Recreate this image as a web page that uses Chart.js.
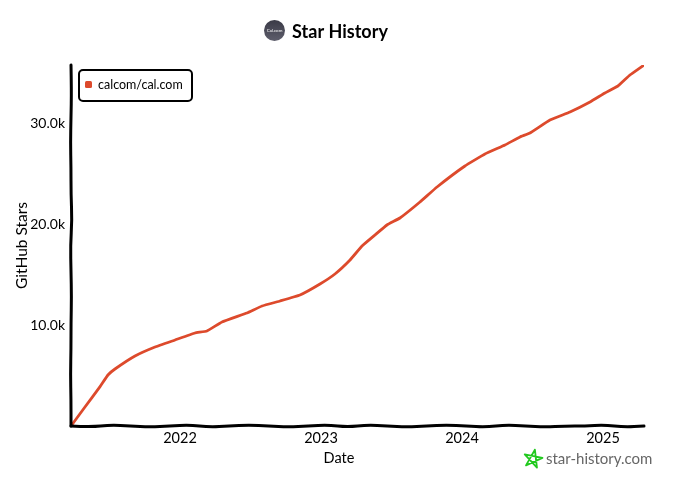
<!DOCTYPE html>
<html>
<head>
<meta charset="utf-8">
<title>Star History</title>
<script src="https://cdn.jsdelivr.net/npm/chart.js@4"></script>
<style>
  body { margin: 0; background: #fff; }
  canvas { display: block; }
</style>
</head>
<body>
<canvas id="myChart" width="680" height="491"></canvas>
<script>
var repoName = 'calcom/cal.com';
// decimal years
var dates = [2021.227, 2021.326, 2021.433, 2021.489, 2021.539, 2021.681, 2021.823, 2021.965, 2022.106,
    2022.191, 2022.298, 2022.475, 2022.582, 2022.709, 2022.851, 2022.993, 2023.099, 2023.206, 2023.291,
    2023.383, 2023.468, 2023.560, 2023.702, 2023.823, 2024.021, 2024.163, 2024.305, 2024.411, 2024.482,
    2024.624, 2024.766, 2024.908, 2025.014, 2025.106, 2025.191, 2025.291];
var stars = [0, 1881, 3901, 5050, 5644, 6931, 7822, 8515, 9208,
    9406, 10297, 11188, 11881, 12376, 12970, 14059, 15050, 16436, 17822,
    18911, 19901, 20594, 22178, 23663, 25743, 26931, 27822, 28614, 29010,
    30297, 31089, 32079, 32970, 33663, 34752, 35743];
var yearTicks = [2022, 2023, 2024, 2025];
var starTicks = [10000, 20000, 30000];

var fontName = 'Lato, sans-serif';
var lineColor = '#dd4a2c';

// small hand drawn wobble, px
var wobbleX = [0, 1, -1, 0, 1, 0, -1, 1, 0, -1, 0, 1, 0, -1, 1, -1, 0, 1, 0, -1, 0, 1, -1, 0, 1, 0, 0, -1, 1, 0];
var wobbleY = [0, 0.5, 0, -0.5, 0, 0, 1, -0.5, 0, 0.5, 0, 0, -0.5, 0, 0];

function wobblyLine(ctx, x0, y0, x1, y1, wobble) {
    var pts = [];
    for (var i = 0; i < wobble.length; i++) {
        var t = i / (wobble.length - 1);
        var w = wobble[i];
        pts.push([x0 + (x1 - x0) * t + (y0 == y1 ? 0 : w), y0 + (y1 - y0) * t + (y0 == y1 ? w : 0)]);
    }
    ctx.beginPath();
    ctx.moveTo(pts[0][0], pts[0][1]);
    for (var j = 1; j < pts.length - 1; j++) {
        ctx.quadraticCurveTo(pts[j][0], pts[j][1], (pts[j][0] + pts[j + 1][0]) / 2, (pts[j][1] + pts[j + 1][1]) / 2);
    }
    ctx.lineTo(pts[pts.length - 1][0], pts[pts.length - 1][1]);
    ctx.stroke();
}

var sketchPlugin = {
    id: 'sketch',
    afterDatasetsDraw: function (chart) {
        var ctx = chart.ctx;
        var a = chart.chartArea;
        ctx.save();
        ctx.lineCap = 'round';
        ctx.strokeStyle = '#000';
        ctx.lineWidth = 3;
        wobblyLine(ctx, a.left, a.top, a.left, a.bottom, wobbleY);
        wobblyLine(ctx, a.left, a.bottom, a.right, a.bottom, wobbleX);

        // legend box
        ctx.fillStyle = '#fff';
        ctx.beginPath();
        ctx.roundRect(79, 70, 113, 31, 4);
        ctx.fill();
        ctx.lineWidth = 2;
        ctx.stroke();
        ctx.fillStyle = lineColor;
        ctx.beginPath();
        ctx.roundRect(85, 81, 7, 7, 1.5);
        ctx.fill();
        ctx.fillStyle = '#000';
        ctx.font = '12.5px ' + fontName;
        ctx.textAlign = 'left';
        ctx.textBaseline = 'middle';
        ctx.fillText(repoName, 98, 85);

        // x title sits on the page centre, not the plot centre
        ctx.font = '14.5px ' + fontName;
        ctx.textAlign = 'center';
        ctx.fillText('Date', 339, 458);

        // logo next to the title
        var grad = ctx.createLinearGradient(0, 21, 0, 41);
        grad.addColorStop(0, '#3c3c48');
        grad.addColorStop(1, '#5e5e6c');
        ctx.fillStyle = grad;
        ctx.beginPath();
        ctx.arc(274.5, 30.5, 10.5, 0, Math.PI * 2);
        ctx.fill();
        ctx.fillStyle = '#fff';
        ctx.font = '4.5px ' + fontName;
        ctx.fillText('Cal.com', 274.5, 31);

        // watermark
        ctx.strokeStyle = '#22c91f';
        ctx.lineWidth = 1.8;
        ctx.lineJoin = 'round';
        ctx.beginPath();
        for (var i = 0; i < 6; i++) {
            var ang = -Math.PI / 2 + i * 4 * Math.PI / 5 + 0.2;
            var sx = 533 + 9.5 * Math.cos(ang);
            var sy = 459 + 9.5 * Math.sin(ang);
            if (i == 0) ctx.moveTo(sx, sy); else ctx.lineTo(sx, sy);
        }
        ctx.stroke();
        ctx.fillStyle = '#666';
        ctx.font = '15px ' + fontName;
        ctx.textAlign = 'left';
        ctx.fillText('star-history.com', 546, 459);
        ctx.restore();
    }
};

var ctx = document.getElementById('myChart').getContext('2d');
var myChart = new Chart(ctx, {
    type: 'line',
    data: {
        labels: dates,
        datasets: [{
            label: repoName,
            data: dates.map(function (d, i) { return { x: d, y: stars[i] }; }),
            borderColor: lineColor,
            backgroundColor: lineColor,
            borderWidth: 2.8,
            pointRadius: 0,
            tension: 0.1
        }]
    },
    options: {
        responsive: false,
        animation: false,
        plugins: {
            legend: { display: false },
            tooltip: { enabled: false },
            title: {
                display: true,
                text: 'Star History',
                color: '#000',
                font: { family: fontName, size: 18, weight: 'bold' },
                padding: { top: 21, bottom: 22.4 }
            }
        },
        scales: {
            x: {
                type: 'linear',
                min: 2021.227,
                max: 2025.291,
                grid: { display: false, drawTicks: false },
                border: { display: false },
                afterBuildTicks: function (s) { s.ticks = yearTicks.map(function (v) { return { value: v }; }); },
                afterFit: function (s) { s.height = 65; },
                ticks: {
                    color: '#000',
                    padding: 4,
                    maxRotation: 0,
                    font: { family: fontName, size: 14.5 },
                    callback: function (v) { return String(v); }
                }
            },
            y: {
                min: 0,
                max: 35743,
                grid: { display: false, drawTicks: false },
                border: { display: false },
                afterBuildTicks: function (s) { s.ticks = starTicks.map(function (v) { return { value: v }; }); },
                afterFit: function (s) { s.width = 71; },
                ticks: {
                    color: '#000',
                    padding: 6,
                    font: { family: fontName, size: 14 },
                    callback: function (v) { return (v / 1000).toFixed(1) + 'k'; }
                },
                title: {
                    display: true,
                    text: 'GitHub Stars',
                    color: '#000',
                    font: { family: fontName, size: 15.5 },
                    padding: { top: 13, bottom: 0 }
                }
            },
            // empty axis, keeps the right margin so the title stays centred on the page
            yRight: {
                position: 'right',
                min: 0,
                max: 1,
                grid: { display: false, drawTicks: false },
                border: { display: false },
                ticks: { display: false },
                afterFit: function (s) { s.width = 36; }
            }
        }
    },
    plugins: [sketchPlugin]
});
</script>
</body>
</html>
